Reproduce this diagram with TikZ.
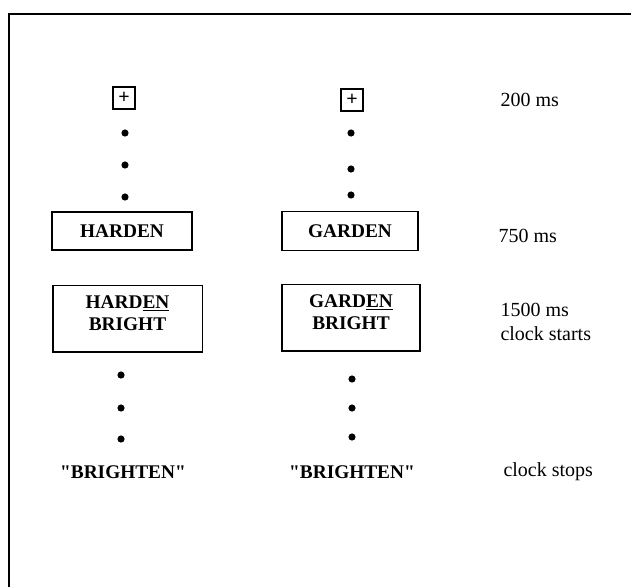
\documentclass[tikz,border=0pt]{standalone}
\usepackage{fontspec}
\setmainfont{Liberation Serif}
\newfontfamily\rectafont{Liberation Serif}[Ligatures=TeXOff]
\usepackage{tikz}
\usetikzlibrary{positioning}

\begin{document}
\begin{tikzpicture}[x=0.75pt, y=-0.75pt, thick,
    font=\fontsize{15}{18}\selectfont,
    palabra/.style={draw, line width=1pt, inner sep=0pt, font=\fontsize{14.5}{17}\selectfont\bfseries},
    cruz/.style={draw, line width=1.4pt, minimum size=16pt, inner sep=0pt, font=\fontsize{15}{15}\selectfont\bfseries},
    tiempo/.style={anchor=west, align=left, inner sep=0pt}]
        \useasboundingbox (0, 0) rectangle (631, 587);
        % Marco
        \draw[line width=1.5pt] (9, 587) -- (9, 14) -- (631, 14);

        % Fijacion
        \node[cruz] (cruzA) at (124, 98) {+};
        \node[cruz] (cruzB) at (352, 100) {+};
        \node[tiempo] (t200) at (500, 100) {200 ms};
        \foreach \y in {133, 165, 197} \filldraw (125, \y) circle (3);
        \foreach \y in {133, 169, 195} \filldraw (351, \y) circle (3);

        % Primo
        \node[palabra, minimum width=105pt, minimum height=28.5pt] (primoA) at (122, 231) {HARDEN};
        \node[palabra, minimum width=102pt, minimum height=29pt] (primoB) at (350, 231) {GARDEN};
        \node[tiempo] (t750) at (498, 236) {750 ms};

        % Blanco
        \node[palabra, minimum width=112pt, minimum height=50pt, align=center] (blancoA) at (127.5, 318.5) {HARD\underline{EN}\\BRIGHT\rule[-8pt]{0pt}{8pt}};
        \node[palabra, minimum width=103.5pt, minimum height=50pt, align=center] (blancoB) at (351, 317.5) {GARD\underline{EN}\\BRIGHT\rule[-8pt]{0pt}{8pt}};
        \node[tiempo] (t1500) at (500, 322) {1500 ms\\clock starts};
        \foreach \y in {375, 408, 439} \filldraw (121, \y) circle (3);
        \foreach \y in {379, 408, 437} \filldraw (352, \y) circle (3);

        % Respuesta
        \node[font=\fontsize{14.5}{18}\selectfont\rectafont\bfseries] (respA) at (123, 472) {"BRIGHTEN"};
        \node[font=\fontsize{14.5}{18}\selectfont\rectafont\bfseries] (respB) at (352, 472) {"BRIGHTEN"};
        \node[tiempo] (tfin) at (503, 472) {clock stops};
    \end{tikzpicture}
\end{document}
